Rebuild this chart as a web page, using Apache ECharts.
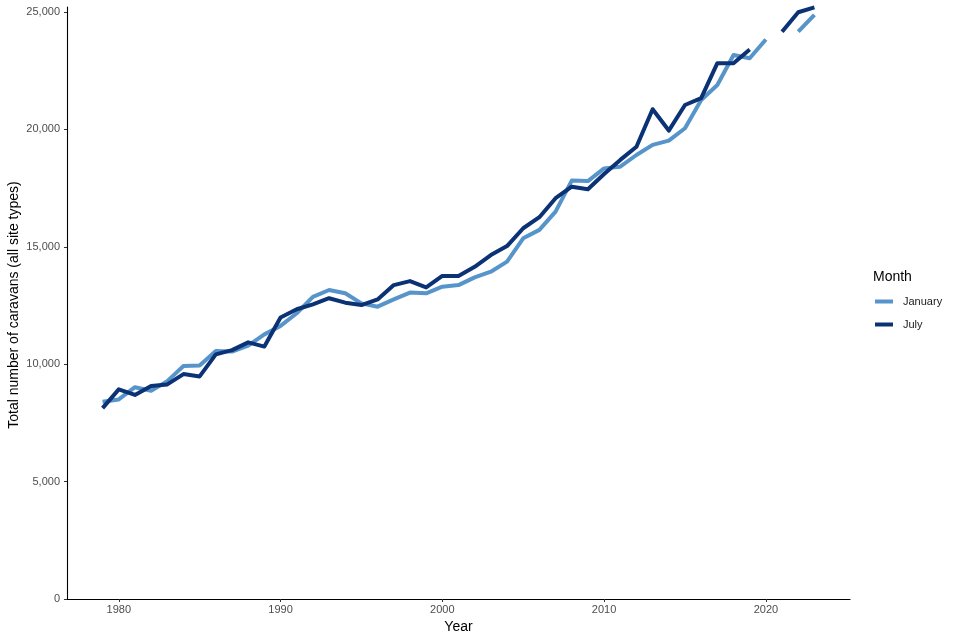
<!DOCTYPE html>
<html>
<head>
<meta charset="utf-8">
<script src="https://cdn.jsdelivr.net/npm/echarts@6/dist/echarts.min.js"></script>
<style>
html,body{margin:0;padding:0;background:#fff;}
#chart{width:960px;height:640px;}
</style>
</head>
<body>
<div id="chart"></div>
<script>
var years = [1979,1980,1981,1982,1983,1984,1985,1986,1987,1988,1989,
  1990,1991,1992,1993,1994,1995,1996,1997,1998,1999,
  2000,2001,2002,2003,2004,2005,2006,2007,2008,2009,
  2010,2011,2012,2013,2014,2015,2016,2017,2018,2019,
  2020,2021,2022,2023];
var january = [8400,8500,9020,8870,9280,9920,9940,10560,10540,10790,11270,
  11630,12170,12870,13160,13020,12590,12450,12760,13050,13020,
  13300,13370,13700,13940,14370,15360,15720,16500,17820,17800,
  18340,18410,18910,19340,19520,20050,21250,21890,23170,23030,
  23830,null,24160,24880];
var july = [8130,8930,8690,9070,9140,9580,9480,10420,10600,10930,10750,
  11990,12340,12550,12810,12620,12520,12760,13370,13540,13270,
  13760,13760,14150,14650,15030,15790,16260,17070,17560,17450,
  18100,18700,19260,20860,19950,21040,21330,22820,22820,23400,
  null,24160,24990,25200];
var xTicks = [1980,1990,2000,2010,2020];
var yTicks = [0,5000,10000,15000,20000,25000];
var seriesNames = ['January','July'];
var yTitle = 'Total number of caravans (all site types)';

function pairs(vals){ return years.map(function(y,i){ return [y, vals[i]]; }); }
function fmt(v){ return String(v).replace(/\B(?=(\d{3})+(?!\d))/g, ','); }

var FONT = '"Liberation Sans", Arial, sans-serif';
var chart = echarts.init(document.getElementById('chart'), null, {renderer:'canvas'});
chart.setOption({
  animation:false,
  backgroundColor:'#ffffff',
  grid:{left:67,right:110,top:7,bottom:41,containLabel:false,outerBoundsMode:'none'},
  xAxis:{
    type:'value', min:1976.8, max:2025.2,
    name:'Year', nameLocation:'middle', nameGap:18,
    nameTextStyle:{fontFamily:FONT,fontSize:14,color:'#000'},
    axisLine:{show:true,lineStyle:{color:'#000',width:1.1}},
    axisTick:{show:true,length:3,lineStyle:{color:'#333'},customValues:xTicks},
    axisLabel:{customValues:xTicks,fontFamily:FONT,fontSize:11,color:'#4d4d4d',margin:5,
      formatter:function(v){return String(v);}},
    splitLine:{show:false}
  },
  yAxis:{
    type:'value', min:0, max:25213,
    axisLine:{show:true,lineStyle:{color:'#000',width:1.1}},
    axisTick:{show:true,length:3,lineStyle:{color:'#333'},customValues:yTicks},
    axisLabel:{customValues:yTicks,fontFamily:FONT,fontSize:11,color:'#4d4d4d',margin:7,
      formatter:function(v){return fmt(v);}},
    splitLine:{show:false}
  },
  legend:{
    orient:'vertical', left:875, top:296, padding:0,
    icon:'rect', itemWidth:18, itemHeight:4, itemGap:12,
    textStyle:{fontFamily:FONT,fontSize:11,color:'#1a1a1a',padding:[0,0,0,5]},
    data:seriesNames
  },
  graphic:[
    {type:'text',left:873,top:270,style:{text:'Month',font:'14px "Liberation Sans", Arial, sans-serif',fill:'#000'}},
    {type:'text',x:14,y:305,rotation:Math.PI/2,
      style:{text:yTitle,font:'14px "Liberation Sans", Arial, sans-serif',fill:'#000',align:'center',verticalAlign:'middle'}}
  ],
  series:[
    {name:seriesNames[0],type:'line',data:pairs(january),showSymbol:false,symbol:'none',connectNulls:false,
      lineStyle:{color:'#5694ca',width:4,join:'round'},itemStyle:{color:'#5694ca'},z:2},
    {name:seriesNames[1],type:'line',data:pairs(july),showSymbol:false,symbol:'none',connectNulls:false,
      lineStyle:{color:'#0b3275',width:4,join:'round'},itemStyle:{color:'#0b3275'},z:3}
  ]
});
</script>
</body>
</html>
